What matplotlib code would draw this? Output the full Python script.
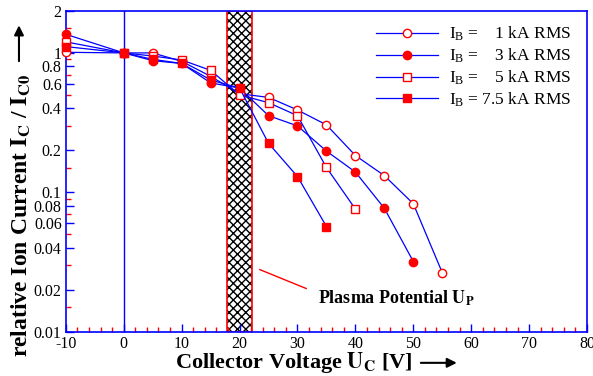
import numpy as np
import matplotlib.pyplot as plt
from matplotlib.patches import Rectangle, FancyArrowPatch
from matplotlib.ticker import FixedLocator, MultipleLocator, NullFormatter

plt.rcParams['font.family'] = ['Liberation Serif', 'DejaVu Serif']
plt.rcParams['mathtext.fontset'] = 'stix'
plt.rcParams['axes.unicode_minus'] = False

# Data
u_1ka = [-10, 0, 5, 10, 15, 20, 25, 30, 35, 40, 45, 50, 55]
i_1ka = [1.01, 1.0, 1.0, 0.87, 0.68, 0.51, 0.48, 0.39, 0.305, 0.184, 0.132, 0.083, 0.0266]
u_3ka = [-10, 0, 5, 10, 15, 20, 25, 30, 35, 40, 45, 50]
i_3ka = [1.36, 1.0, 0.88, 0.84, 0.61, 0.56, 0.355, 0.30, 0.198, 0.14, 0.077, 0.032]
u_5ka = [-10, 0, 5, 10, 15, 20, 25, 30, 35, 40]
i_5ka = [1.20, 1.0, 0.95, 0.89, 0.75, 0.50, 0.44, 0.355, 0.151, 0.076]
u_75ka = [-10, 0, 5, 10, 15, 20, 25, 30, 35]
i_75ka = [1.11, 1.0, 0.90, 0.84, 0.64, 0.56, 0.225, 0.13, 0.057]

labels = [r"$\mathregular{I_B}$ =    1 kA RMS",
          r"$\mathregular{I_B}$ =    3 kA RMS",
          r"$\mathregular{I_B}$ =    5 kA RMS",
          r"$\mathregular{I_B}$ = 7.5 kA RMS"]

plasma_band = (17.8, 22.2)
y_major = [0.01, 0.02, 0.04, 0.06, 0.08, 0.1, 0.2, 0.4, 0.6, 0.8, 1, 2]
y_minor = [0.015, 0.03, 0.05, 0.07, 0.09, 0.15, 0.3, 0.5, 0.7, 0.9, 1.5]

blue = '#0000ff'
red = '#ff0000'

fig = plt.figure(figsize=(5.93, 3.76), dpi=100)
ax = fig.add_axes([0.111, 0.117, 0.879, 0.854])

# hatched plasma potential band
ax.add_patch(Rectangle((plasma_band[0], 0.01), plasma_band[1] - plasma_band[0], 1.99,
                       facecolor='white', edgecolor='black', hatch='xxxx', lw=0, zorder=1))
ax.add_patch(Rectangle((plasma_band[0], 0.01), plasma_band[1] - plasma_band[0], 1.99,
                       facecolor='none', edgecolor=red, lw=1.2, zorder=2))

ax.axvline(0, color=blue, lw=1, zorder=1)

series = [(u_1ka, i_1ka, 'o', 'white'), (u_3ka, i_3ka, 'o', red),
          (u_5ka, i_5ka, 's', 'white'), (u_75ka, i_75ka, 's', red)]
for (u, i, m, fc), lab in zip(series, labels):
    ax.plot(u, i, color=blue, lw=0.9, marker=m, markersize=6,
            markerfacecolor=fc, markeredgecolor=red, markeredgewidth=1.0,
            label=lab, zorder=3, clip_on=False)

ax.set_yscale('log')
ax.set_xlim(-10, 80)
ax.set_ylim(0.01, 2)

ax.xaxis.set_major_locator(MultipleLocator(10))
ax.xaxis.set_minor_locator(MultipleLocator(2))
ax.yaxis.set_major_locator(FixedLocator(y_major))
ax.yaxis.set_minor_locator(FixedLocator(y_minor))
ax.set_yticklabels([f"{v:g}" for v in y_major])
ax.yaxis.set_minor_formatter(NullFormatter())

ax.tick_params(which='both', direction='in', top=False, right=False, labelsize=11.5)
ax.tick_params(which='major', length=6, width=1, color=blue, pad=3)
ax.tick_params(which='minor', length=3.5, width=1, color=red)
for s in ax.spines.values():
    s.set_color(blue)
    s.set_linewidth(1.2)

ax.legend(loc='upper right', frameon=False, fontsize=12.5, handlelength=3.6,
          handletextpad=0.6, labelspacing=0.2, borderaxespad=0.0,
          bbox_to_anchor=(0.982, 0.978))

# plasma potential annotation
ax.plot([23.5, 31.5], [0.028, 0.0205], color=red, lw=1)
ax.text(33.5, 0.0175, r"Plasma Potential $\mathbf{U_P}$", fontsize=13,
        fontweight='bold', va='center', ha='left')

# axis labels with arrows
fig.text(0.036, 0.428, r"relative Ion Current $\mathbf{I_C}$ / $\mathbf{I_{C0}}$",
         rotation=90, fontsize=17, fontweight='bold', ha='center', va='center')
fig.text(0.495, 0.035, r"Collector Voltage $\mathbf{U_C}$ [V]",
         fontsize=16, fontweight='bold', ha='center', va='center')
fig.patches.append(FancyArrowPatch(
    (0.032, 0.830), (0.032, 0.940), transform=fig.transFigure,
    arrowstyle='-|>', mutation_scale=14, color='black', lw=1.5))
fig.patches.append(FancyArrowPatch(
    (0.705, 0.035), (0.775, 0.035), transform=fig.transFigure,
    arrowstyle='-|>', mutation_scale=14, color='black', lw=1.5))

fig.savefig('out.png', dpi=100)
